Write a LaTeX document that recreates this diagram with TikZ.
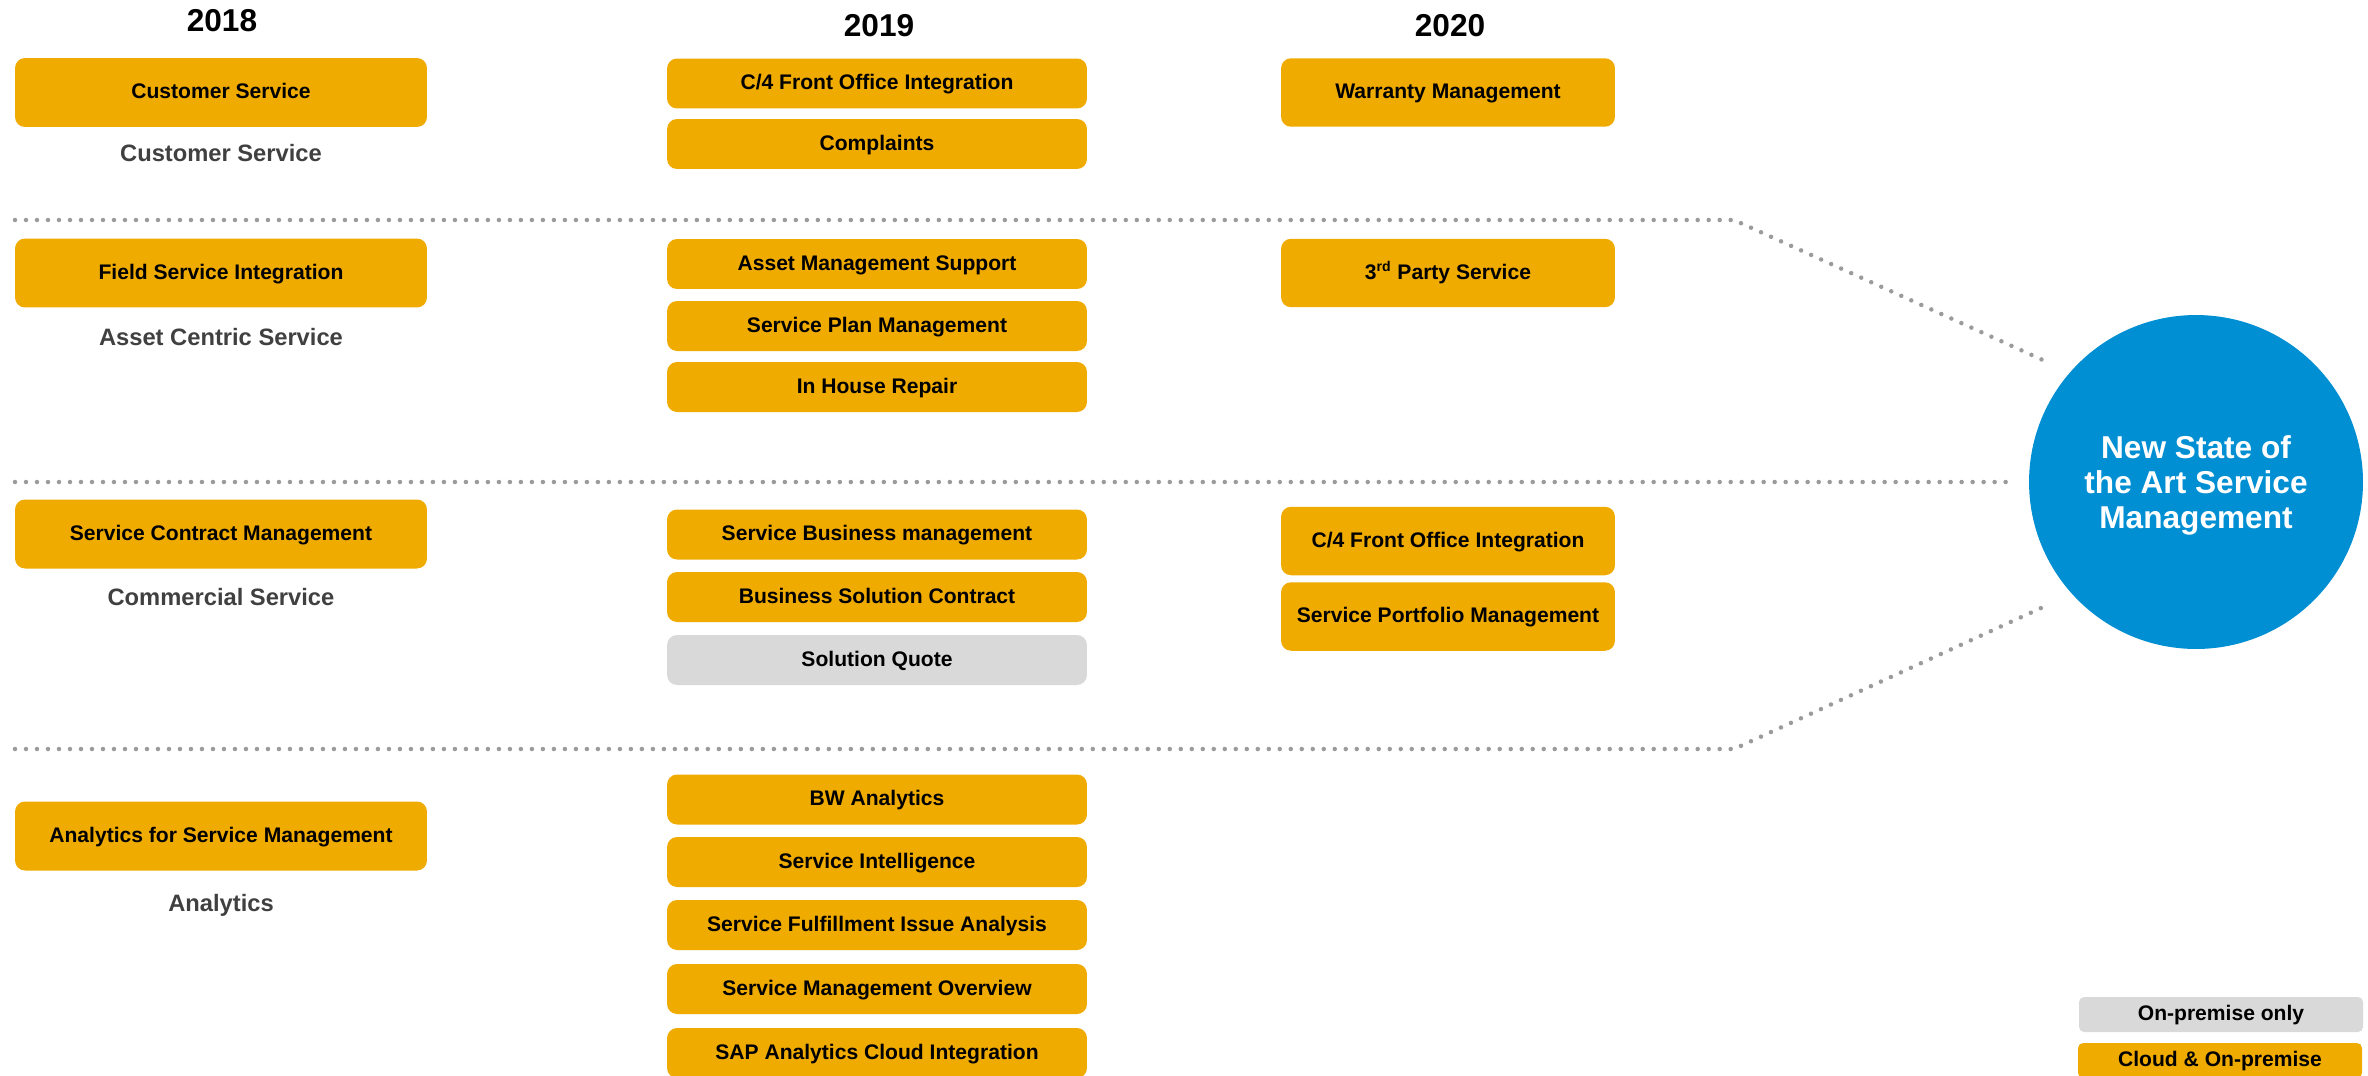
\documentclass[tikz,border=0pt]{standalone}
\usepackage{fontspec}
\setmainfont{Liberation Sans}
\definecolor{sapGold}{RGB}{240, 171, 0}
\definecolor{sapBlue}{RGB}{0, 143, 211}
\definecolor{premGray}{RGB}{217, 217, 217}
\definecolor{dotGray}{RGB}{155, 155, 155}
\definecolor{areaGray}{RGB}{64, 64, 64}
\usetikzlibrary{positioning}

\tikzset{
  item/.style={fill=sapGold, text=black, rounded corners=0.2cm, inner sep=0pt,
    text height=0.73em, text depth=0pt,
    minimum height=1cm, font=\fontsize{12}{14}\selectfont\bfseries},
  boxA/.style={item, minimum width=8.24cm, minimum height=1.38cm},
  boxB/.style={item, minimum width=8.4cm},
  boxC/.style={item, minimum width=6.68cm, minimum height=1.37cm},
  onprem/.style={fill=premGray},
  keyBox/.style={item, minimum width=5.68cm, minimum height=0.7cm, rounded corners=0.1cm},
  area/.style={text=areaGray, font=\fontsize{13.5}{16}\selectfont\bfseries},
  yearlabel/.style={font=\fontsize{18}{21}\selectfont\bfseries},
  divider/.style={dotGray, line width=0.09cm, line cap=round, dash pattern=on 0pt off 0.22cm},
}

\begin{document}
\begin{tikzpicture}[x=0.02cm, y=-0.02cm]
    \useasboundingbox (0,0) rectangle (2368,1075);

    % Years
    \node[yearlabel] (y18) at (222,21) {2018};
    \node[yearlabel] (y19) at (879,26) {2019};
    \node[yearlabel] (y20) at (1450,26) {2020};

    % 2018
    \node[boxA] (custsvc) at (221,92.5) {Customer Service};
    \node[area] (areaCust) at (221,153) {Customer Service};
    \node[boxA] (fieldsvc) at (221,273) {Field Service Integration};
    \node[area] (areaAsset) at (221,337) {Asset Centric Service};
    \node[boxA] (contract) at (221,534) {Service Contract Management};
    \node[area] (areaComm) at (221,597) {Commercial Service};
    \node[boxA] (anaSM) at (221,836) {Analytics for Service Management};
    \node[area] (areaAna) at (221,905) {Analytics};

    % 2019
    \node[boxB] (frontA) at (877,83.5) {C/4 Front Office Integration};
    \node[boxB] (complaints) at (877,144) {Complaints};
    \node[boxB] (assetSup) at (877,264) {Asset Management Support};
    \node[boxB] (svcPlan) at (877,326) {Service Plan Management};
    \node[boxB] (inHouse) at (877,387) {In House Repair};
    \node[boxB] (svcBiz) at (877,534.5) {Service Business management};
    \node[boxB] (bizSol) at (877,597) {Business Solution Contract};
    \node[boxB, onprem] (quote) at (877,660) {Solution Quote};
    \node[boxB] (bw) at (877,799.5) {BW Analytics};
    \node[boxB] (intel) at (877,862) {Service Intelligence};
    \node[boxB] (fulfil) at (877,925) {Service Fulfillment Issue Analysis};
    \node[boxB] (overview) at (877,989) {Service Management Overview};
    \node[boxB] (sac) at (877,1053) {SAP Analytics Cloud Integration};

    % 2020
    \node[boxC] (warranty) at (1448,92.5) {Warranty Management};
    \node[boxC] (third) at (1448,273) {3\textsuperscript{rd} Party Service};
    \node[boxC] (frontB) at (1448,541) {C/4 Front Office Integration};
    \node[boxC] (portfolio) at (1448,616.5) {Service Portfolio Management};

    % Goal
    \node[circle, fill=sapBlue, text=white, inner sep=0pt, minimum size=6.68cm, align=center,
      text depth=0pt, font=\fontsize{18}{20}\selectfont\bfseries] (ring) at (2196,482)
      {New State of\\the Art Service\\Management};

    % Dotted dividers
    \coordinate (d1) at (15,220);
    \coordinate (k1) at (1734,220);
    \coordinate (d2) at (15,482);
    \coordinate (d3) at (15,749);
    \coordinate (k3) at (1734,749);
    \draw[divider, shorten >=0.42cm] (d1) -- (k1) -- (ring.139.5);
    \draw[divider, shorten >=0.3cm] (d2) -- (ring.west);
    \draw[divider, shorten >=0.52cm] (d3) -- (k3) -- (ring.222);

    % Legend
    \node[keyBox, onprem] (keyPrem) at (2221,1014.5) {On-premise only};
    \node[keyBox] (keyCloud) at (2220,1060.5) {Cloud \& On-premise};
\end{tikzpicture}
\end{document}
